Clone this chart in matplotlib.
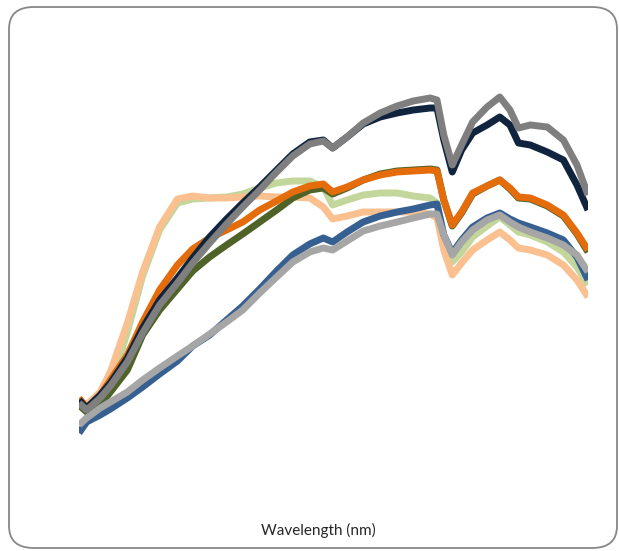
import matplotlib
matplotlib.use("Agg")
import matplotlib.pyplot as plt
from matplotlib.patches import FancyBboxPatch

# wavelength grid (nm) and reflectance (%)
wavelength = [400, 409, 425, 437, 457, 475, 495, 516, 534, 554,
              574, 593, 613, 633, 652, 672, 688, 699, 716, 735,
              755, 775, 794, 814, 822, 830, 840, 851, 864, 881,
              896, 908, 918, 932, 952, 971, 987, 1000]

navy = [6.0, 5.2, 6.5, 7.7, 10.2, 13.2, 16.0, 18.2, 20.2, 22.3,
        24.1, 25.7, 27.3, 29.0, 30.6, 31.8, 32.0, 31.2, 32.3, 33.6,
        34.3, 34.7, 35.0, 35.2, 35.2, 32.0, 28.8, 31.0, 32.7, 33.5,
        34.3, 33.5, 31.7, 31.5, 30.8, 30.0, 27.5, 25.0]
gray = [5.7, 5.0, 6.2, 7.4, 9.8, 12.7, 15.5, 17.7, 19.7, 21.7,
        23.6, 25.3, 27.0, 28.8, 30.4, 31.6, 31.9, 31.2, 32.3, 33.7,
        34.7, 35.4, 35.9, 36.2, 36.0, 32.5, 29.5, 31.5, 33.8, 35.3,
        36.3, 35.0, 33.2, 33.5, 33.3, 32.0, 29.5, 26.5]
orange = [6.2, 5.2, 6.5, 8.0, 10.5, 13.8, 17.0, 19.5, 21.1, 22.2,
          23.0, 23.8, 25.0, 25.9, 26.8, 27.4, 27.6, 26.8, 27.3, 28.0,
          28.5, 28.8, 28.9, 29.0, 28.9, 26.0, 23.5, 24.8, 26.7, 27.4,
          28.0, 27.2, 26.3, 26.2, 25.5, 24.5, 22.7, 21.0]
dark_green = [5.5, 4.8, 5.5, 6.8, 9.0, 12.5, 15.0, 17.1, 18.9, 20.3,
              21.5, 22.6, 23.8, 25.0, 26.2, 27.0, 27.2, 26.6, 27.2, 28.0,
              28.6, 28.9, 29.0, 29.1, 29.0, 26.0, 23.4, 24.7, 26.6, 27.4,
              28.0, 27.1, 26.2, 26.1, 25.4, 24.4, 22.6, 20.8]
light_green = [5.5, 5.0, 6.2, 7.2, 12.8, 18.4, 23.0, 25.7, 26.1, 26.2,
               26.3, 26.6, 27.2, 27.7, 27.9, 27.9, 27.3, 25.5, 26.0, 26.5,
               26.7, 26.7, 26.4, 26.2, 25.7, 22.5, 19.8, 20.8, 22.3, 23.4,
               24.3, 23.5, 22.8, 22.5, 21.8, 20.8, 19.3, 17.5]
peach = [6.0, 5.5, 6.8, 8.8, 13.7, 18.8, 23.3, 26.1, 26.4, 26.2,
         26.2, 26.3, 26.4, 26.3, 26.3, 26.2, 25.3, 24.1, 24.4, 24.8,
         24.8, 24.8, 24.8, 24.6, 24.2, 21.0, 18.5, 19.7, 21.0, 22.0,
         22.8, 22.0, 21.2, 21.0, 20.5, 19.5, 18.0, 16.3]
blue = [2.7, 3.8, 4.5, 5.1, 6.2, 7.3, 8.6, 9.9, 11.4, 12.5,
        14.0, 15.4, 17.1, 18.9, 20.5, 21.6, 22.2, 21.8, 22.8, 23.8,
        24.4, 24.8, 25.1, 25.5, 25.6, 22.5, 20.7, 22.0, 23.3, 24.2,
        24.7, 24.1, 23.7, 23.3, 22.7, 22.0, 20.3, 18.0]
light_gray = [3.5, 4.2, 5.2, 5.8, 6.8, 8.0, 9.2, 10.4, 11.4, 12.6,
              13.8, 15.0, 16.7, 18.3, 19.8, 20.8, 21.2, 21.0, 21.9, 22.9,
              23.4, 23.8, 24.2, 24.6, 24.6, 22.5, 20.5, 21.8, 23.0, 24.0,
              24.5, 23.8, 23.3, 22.8, 22.2, 21.5, 20.5, 18.8]

W, H = 619, 551
fig = plt.figure(figsize=(W / 100, H / 100), dpi=100)

# rounded frame round the chart
frame = FancyBboxPatch((9 / W, 1 - 548 / H), 608 / W, 541 / H,
                       boxstyle="round,pad=0,rounding_size=0.04",
                       transform=fig.transFigure, facecolor="none",
                       edgecolor="#878787", linewidth=1.3, zorder=-1)
fig.patches.append(frame)

ax = fig.add_axes([79 / W, (H - 460) / H, (588 - 79) / W, 420 / H])
ax.patch.set_alpha(0)

series = [(light_green, "#C3D69B"), (peach, "#FAC090"),
          (dark_green, "#4F6228"), (orange, "#E46C0A"),
          (blue, "#376092"), (light_gray, "#A6A6A6"),
          (navy, "#10243E"), (gray, "#7F7F7F")]
for vals, col in series:
    ax.plot(wavelength, vals, color=col, linewidth=5,
            solid_joinstyle="round", solid_capstyle="butt")

ax.set_xlim(400, 1000)
ax.set_ylim(0, 42)
ax.set_xticks([])
ax.set_yticks([])
for s in ax.spines.values():
    s.set_visible(False)

fig.text(318 / W, 1 - 530 / H, "Wavelength (nm)", ha="center", va="center",
         fontsize=11, color="#262626", family=["Lato", "DejaVu Sans"])

fig.savefig("out.png", dpi=100)
